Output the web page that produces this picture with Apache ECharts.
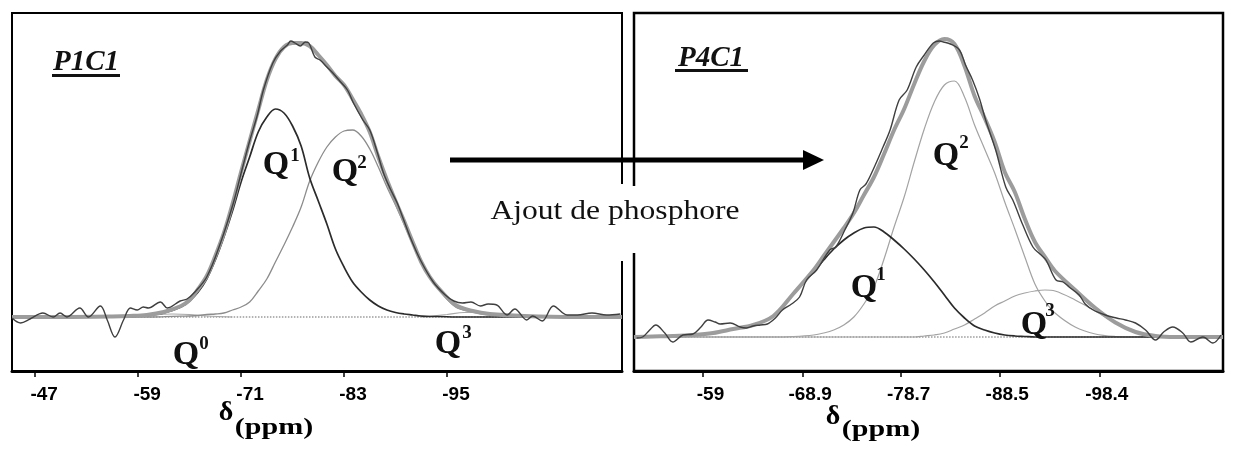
<!DOCTYPE html>
<html>
<head>
<meta charset="utf-8">
<script src="https://cdn.jsdelivr.net/npm/echarts@6/dist/echarts.min.js"></script>
<style>
  html, body { margin: 0; padding: 0; background: #fff; }
  #chart { width: 1236px; height: 464px; }
</style>
</head>
<body>
<div id="chart"></div>
<script>
// ---- P1C1 (panneau gauche) ----
const ticksL = [-47, -59, -71, -83, -95];
const ppmL = [-44.3, -50, -56, -58, -60, -62, -64, -65, -66, -67, -68, -69, -70, -71, -72, -73, -74, -75, -76, -77, -78, -79, -80, -81, -82, -83, -84, -85, -86, -87, -88, -89, -90, -91, -92, -93, -94, -96, -98, -100, -104, -110, -115.4];
const q1L = [0, 0, 0, 0.5, 1.5, 4, 10, 16, 25, 38, 57, 80, 106, 135, 160, 185, 200, 208, 204, 191, 171, 139, 116, 93, 68, 50, 35, 25, 17, 11, 7, 4.5, 3, 2, 1, 0.5, 0.5, 0, 0, 0, 0, 0, 0];
const q2L = [0, 0, 0, 0, 0, 0.3, 0.8, 1, 1.5, 2.5, 3, 4, 7, 10, 15, 26, 38, 55, 72, 90, 110, 136, 155, 170, 180, 186, 187, 181, 168, 150, 130, 112, 93, 73, 54, 40, 28, 10, 5, 2, 0.5, 0, 0];
const fitL = [0, 0, 0.5, 1, 2, 5, 11, 17, 28, 41, 61, 84, 113, 145, 176, 207, 237, 258, 270, 274, 274, 271, 262, 252, 241, 232, 218, 203, 185, 160, 137, 116, 96, 75, 55, 40, 29, 12, 6, 3, 1, 0, 0];
const q0L = [[-56, 0], [-59, 1], [-61, 2.5], [-63, 3], [-65, 2.5], [-67, 1], [-70, 0]];
const q3L = [[-92, 0], [-95, 2.5], [-97, 4.5], [-99, 4.5], [-101, 2.5], [-104, 0]];
const expL = [[-44.3, -1], [-45.3, -6], [-46.4, -2], [-47.9, 4], [-49.1, 0], [-49.9, 4], [-50.7, 0], [-52.2, 9], [-53.2, 0], [-54.6, 11], [-55.4, -3], [-56.3, -20], [-57.3, -3], [-58.1, 9], [-58.9, 7], [-59.6, 10], [-60.2, 9], [-61.6, 15], [-62.4, 9], [-63.9, 16], [-64.7, 18], [-65.5, 24], [-67.0, 40], [-68.6, 74], [-70.1, 114], [-71.1, 147], [-72.0, 176], [-72.9, 202], [-73.6, 227], [-74.7, 254], [-75.6, 266], [-76.4, 272], [-76.8, 276], [-77.3, 274], [-77.9, 271], [-78.5, 275], [-78.9, 274], [-79.6, 260], [-80.2, 257], [-81.0, 250], [-81.7, 244], [-82.5, 236], [-83.4, 227], [-84.1, 214], [-85.2, 197], [-86.0, 187], [-86.9, 164], [-87.6, 144], [-88.4, 128], [-89.2, 114], [-90.0, 96], [-90.7, 80], [-91.9, 57], [-93.4, 35], [-94.8, 22], [-95.8, 16], [-96.8, 14], [-97.8, 15], [-98.9, 11], [-99.8, 13], [-100.8, 12], [-102.0, 2], [-102.9, 8], [-104.3, -3], [-105.0, 1], [-106.1, -4], [-107.4, 11], [-109.0, 2], [-110.2, 2], [-111.9, 4], [-113.6, 2], [-115.2, 3]];

// ---- P4C1 (panneau droit) ----
const ticksR = [-59, -68.9, -78.7, -88.5, -98.4];
const ppmR = [-52.14, -54, -56, -58, -60, -62, -64, -66, -68, -70, -71, -72, -73, -74, -75, -76, -77, -78, -79, -80, -81, -82, -83, -84, -85, -86, -87, -88, -89, -90, -91, -92, -93, -94, -96, -98, -100, -102, -104, -106, -108, -110.7];
const q1R = [0, 0.5, 1, 2, 4, 8, 12, 21, 43, 65, 77, 88, 97, 104, 109, 110, 105, 97, 88, 78, 67, 55, 42, 29, 19, 11, 7, 4, 2, 1, 0.5, 0, 0, 0, 0, 0, 0, 0, 0, 0, 0, 0];
const q2R = [0, 0, 0, 0, 0, 0, 0, 0, 0.5, 2, 4, 7, 12, 20, 33, 50, 78, 110, 140, 175, 208, 235, 252, 256, 240, 212, 188, 164, 135, 108, 80, 53, 36, 24, 10, 3, 0.5, 0, 0, 0, 0, 0];
const q3R = [0, 0, 0, 0, 0, 0, 0, 0, 0, 0, 0, 0, 0, 0, 0, 0, 0, 0, 0, 0, 1, 2, 4, 8, 12, 18, 24, 31, 36, 41, 44, 46, 47, 46, 37, 26, 14, 5, 1, 0, 0, 0];
const fitR = [0, 0.5, 1, 2, 4, 8, 12, 21, 43.5, 67, 81, 95, 109, 124, 142, 160, 183, 207, 228, 253, 276, 292, 298, 293, 271, 241, 219, 195, 165, 145, 118, 95, 80, 66, 47, 29, 14.5, 5, 1, 0, 0, 0];
const expR = [[-52.4, -1], [-53.0, 0], [-53.7, 7], [-54.3, 12], [-55.2, 4], [-56.0, -5], [-57.0, 2], [-58.0, 3], [-58.8, 10], [-59.5, 17], [-60.2, 15], [-60.7, 13], [-61.7, 14], [-62.7, 10], [-63.3, 9], [-64.0, 11], [-64.7, 12], [-65.4, 13], [-66.2, 19], [-66.9, 27], [-67.8, 33], [-68.6, 40], [-69.3, 57], [-70.3, 67], [-71.6, 87], [-72.2, 90], [-73.1, 107], [-73.9, 124], [-74.6, 147], [-75.2, 153], [-75.9, 167], [-76.9, 190], [-77.6, 207], [-78.5, 237], [-79.3, 247], [-80.2, 270], [-81.0, 282], [-81.9, 294], [-82.5, 296], [-82.9, 295], [-83.6, 293], [-84.5, 287], [-85.1, 272], [-85.8, 257], [-86.5, 238], [-87.1, 217], [-88.1, 187], [-89.1, 150], [-89.8, 137], [-90.8, 112], [-91.8, 90], [-92.5, 83], [-93.1, 77], [-94.1, 57], [-94.8, 55], [-95.4, 50], [-96.4, 42], [-97.0, 33], [-97.8, 27], [-99.0, 22], [-100.1, 19], [-101.0, 17], [-102.0, 14], [-103.0, 7], [-104.0, -3], [-104.8, 5], [-105.7, 10], [-106.7, 4], [-107.5, -5], [-108.7, 0], [-109.7, -6], [-110.5, 2]];

const baseL = [[-44.3, 0], [-115.4, 0]];
const baseR = [[-52.14, 0], [-110.7, 0]];

const serif = '"Liberation Serif", "Times New Roman", serif';
const sans = '"Liberation Sans", Arial, sans-serif';

function pairs(xs, ys) {
  return xs.map((x, i) => [x, ys[i]]);
}

function curve(name, idx, data, color, width, type) {
  return {
    name: name,
    type: 'line',
    xAxisIndex: idx,
    yAxisIndex: idx,
    showSymbol: false,
    smooth: 0.35,
    silent: true,
    lineStyle: { color: color, width: width, type: type || 'solid' },
    data: data
  };
}

function xAxisFor(idx, min, max, ticks, pad) {
  return {
    gridIndex: idx,
    type: 'value',
    min: min,
    max: max,
    inverse: true,
    axisLine: { show: true, onZero: false, lineStyle: { color: '#000', width: 3 } },
    axisTick: { show: true, customValues: ticks, length: 6, lineStyle: { color: '#000', width: 1.5 } },
    axisLabel: {
      customValues: ticks,
      color: '#000',
      fontFamily: sans,
      fontWeight: 'bold',
      fontSize: 19,
      margin: 14,
      padding: [0, 0, 0, pad],
      formatter: (v) => String(v)
    },
    splitLine: { show: false }
  };
}

function qLabel(x, y, sup, sx, sy) {
  return [
    { type: 'text', x: x, y: y, z: 60, style: { text: 'Q', font: 'bold 34px ' + serif, fill: '#111', align: 'center', verticalAlign: 'middle' } },
    { type: 'text', x: sx, y: sy, z: 60, style: { text: sup, font: 'bold 19px ' + serif, fill: '#111', align: 'center', verticalAlign: 'middle' } }
  ];
}

const chart = echarts.init(document.getElementById('chart'));

const option = {
  animation: false,
  backgroundColor: '#fff',
  grid: [
    { left: 12, top: 13, width: 610, height: 358, show: true, borderColor: '#000', borderWidth: 2 },
    { left: 634, top: 13, width: 589, height: 358, show: true, borderColor: '#000', borderWidth: 2.5 }
  ],
  xAxis: [
    xAxisFor(0, -115.4, -44.3, ticksL, 18),
    xAxisFor(1, -110.7, -52.14, ticksR, 15)
  ],
  yAxis: [
    { gridIndex: 0, type: 'value', min: -54, max: 304, show: false },
    { gridIndex: 1, type: 'value', min: -34, max: 324, show: false }
  ],
  series: [
    curve('ligne de base', 0, baseL, '#9a9a9a', 1.5, 'dotted'),
    curve('Q0', 0, q0L, '#a8a8a8', 1.2),
    curve('Q3', 0, q3L, '#a8a8a8', 1.2),
    curve('Q2', 0, pairs(ppmL, q2L), '#8c8c8c', 1.3),
    curve('Q1', 0, pairs(ppmL, q1L), '#2b2b2b', 1.7),
    curve('somme', 0, pairs(ppmL, fitL), '#9c9c9c', 4),
    curve('spectre', 0, expL, '#3f3f3f', 1.4),

    curve('ligne de base', 1, baseR, '#9a9a9a', 1.5, 'dotted'),
    curve('Q3', 1, pairs(ppmR, q3R), '#a3a3a3', 1.2),
    curve('Q2', 1, pairs(ppmR, q2R), '#a3a3a3', 1.2),
    curve('Q1', 1, pairs(ppmR, q1R), '#2b2b2b', 1.7),
    curve('somme', 1, pairs(ppmR, fitR), '#9c9c9c', 4),
    curve('spectre', 1, expR, '#3f3f3f', 1.4)
  ],
  graphic: [
    // coupures des cadres autour du texte
    { type: 'rect', z: 50, shape: { x: 618, y: 184, width: 8, height: 77 }, style: { fill: '#fff' } },
    { type: 'rect', z: 50, shape: { x: 630, y: 186, width: 8, height: 67 }, style: { fill: '#fff' } },
    // fleche
    { type: 'line', z: 55, shape: { x1: 450, y1: 160, x2: 806, y2: 160 }, style: { stroke: '#000', lineWidth: 5 } },
    { type: 'polygon', z: 55, shape: { points: [[803, 150], [824, 160], [803, 170]] }, style: { fill: '#000' } },
    { type: 'text', x: 615, y: 212, z: 60, scaleX: 1.17, style: { text: 'Ajout de phosphore', font: '27px ' + serif, fill: '#111', align: 'center', verticalAlign: 'middle' } },
    // titres des panneaux
    { type: 'text', x: 86, y: 63, z: 60, style: { text: 'P1C1', font: 'italic bold 29px ' + serif, fill: '#111', align: 'center', verticalAlign: 'middle' } },
    { type: 'rect', z: 60, shape: { x: 52, y: 74, width: 68, height: 3 }, style: { fill: '#111' } },
    { type: 'text', x: 711, y: 59, z: 60, style: { text: 'P4C1', font: 'italic bold 29px ' + serif, fill: '#111', align: 'center', verticalAlign: 'middle' } },
    { type: 'rect', z: 60, shape: { x: 675, y: 69, width: 73, height: 3 }, style: { fill: '#111' } },
    // titres des axes
    { type: 'text', x: 226, y: 413, z: 60, style: { text: 'δ', font: 'bold 28px ' + serif, fill: '#000', align: 'center', verticalAlign: 'middle' } },
    { type: 'text', x: 274, y: 428, z: 60, scaleX: 1.25, style: { text: '(ppm)', font: 'bold 24px ' + serif, fill: '#000', align: 'center', verticalAlign: 'middle' } },
    { type: 'text', x: 833, y: 417, z: 60, style: { text: 'δ', font: 'bold 28px ' + serif, fill: '#000', align: 'center', verticalAlign: 'middle' } },
    { type: 'text', x: 881, y: 430, z: 60, scaleX: 1.25, style: { text: '(ppm)', font: 'bold 24px ' + serif, fill: '#000', align: 'center', verticalAlign: 'middle' } }
  ]
    .concat(qLabel(276, 165, '1', 295, 156))
    .concat(qLabel(345, 172, '2', 362, 163))
    .concat(qLabel(186, 355, '0', 204, 344))
    .concat(qLabel(448, 344, '3', 467, 333))
    .concat(qLabel(946, 156, '2', 964, 143))
    .concat(qLabel(864, 288, '1', 881, 275))
    .concat(qLabel(1034, 325, '3', 1050, 311))
};

chart.setOption(option);
</script>
</body>
</html>
